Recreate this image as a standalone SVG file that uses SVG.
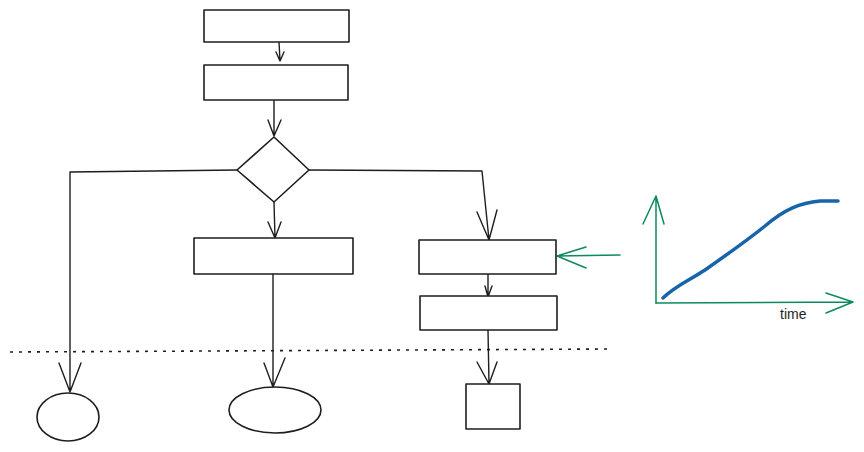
<svg xmlns="http://www.w3.org/2000/svg" width="864" height="452" viewBox="0 0 864 452">
<style>
.n{fill:#fff;stroke:#1e1e1e;stroke-width:1.6;stroke-linejoin:round}
.c{fill:none;stroke:#1e1e1e;stroke-width:1.4;stroke-linecap:round;stroke-linejoin:round}
.g{fill:none;stroke:#0c8a5e;stroke-width:1.5;stroke-linecap:round;stroke-linejoin:round}
.d{fill:none;stroke:#1e1e1e;stroke-width:1.6;stroke-dasharray:3 6}
.b{fill:none;stroke:#1864ab;stroke-width:3.5;stroke-linecap:round;stroke-linejoin:round}
.t{font-family:"Liberation Sans",Arial,sans-serif;font-size:14px;fill:#1e1e1e}
</style>
<rect width="864" height="452" fill="#fff"/>
<g id="connectors">
<path class="c" d="M279 42 L280 61 M276 52 L280 61 L284 52"/>
<path class="c" d="M274 100 L274 136 M268 120 L274 136 L281 120"/>
<path class="c" d="M274 202 L275 238 M268 222 L275 238 L281 222"/>
<path class="c" d="M237 170 L70 172 L70 392 M59 363 L70 392 L81 363"/>
<path class="c" d="M309 170 L482 171 L489 240 M477 212 L489 240 L497 210"/>
<path class="c" d="M488 274 L488 297 M485 286 L488 297 L492 286"/>
<path class="c" d="M273 274 L273 387 M264 363 L273 387 L285 358"/>
<path class="c" d="M488 330 L489 384 M477 362 L489 384 L497 362"/>
<path class="g" d="M620 255 L557 256 M586 247 L557 256 L586 268"/>
</g>
<line class="d" x1="10" y1="352" x2="612" y2="349"/>
<g id="box1"><rect class="n" x="204" y="10" width="145" height="32"/></g>
<g id="box2"><rect class="n" x="204" y="65" width="144" height="35"/></g>
<g id="decision"><path class="n" d="M274 137 L309 170 L274 202 L237 170 Z"/></g>
<g id="box3"><rect class="n" x="194" y="238" width="159" height="36"/></g>
<g id="box4"><rect class="n" x="419" y="240" width="137" height="34"/></g>
<g id="box5"><rect class="n" x="420" y="296" width="137" height="34"/></g>
<g id="end1"><ellipse class="n" cx="68" cy="417" rx="31" ry="24"/></g>
<g id="end2"><ellipse class="n" cx="275" cy="410" rx="46" ry="23"/></g>
<g id="end3"><rect class="n" x="466" y="384" width="54" height="45"/></g>
<g id="chart">
<path class="g" d="M656 303 L656 196 M643 224 L656 196 L664 224"/>
<path class="g" d="M656 303 L853 302 M826 293 L853 302 L826 313"/>
<path class="b" d="M663 298 C675 286 690 280 705 270 C725 256 745 242 765 226 C785 209 800 203 820 201 L838 201"/>
<text class="t" x="780" y="319">time</text>
</g>
</svg>
